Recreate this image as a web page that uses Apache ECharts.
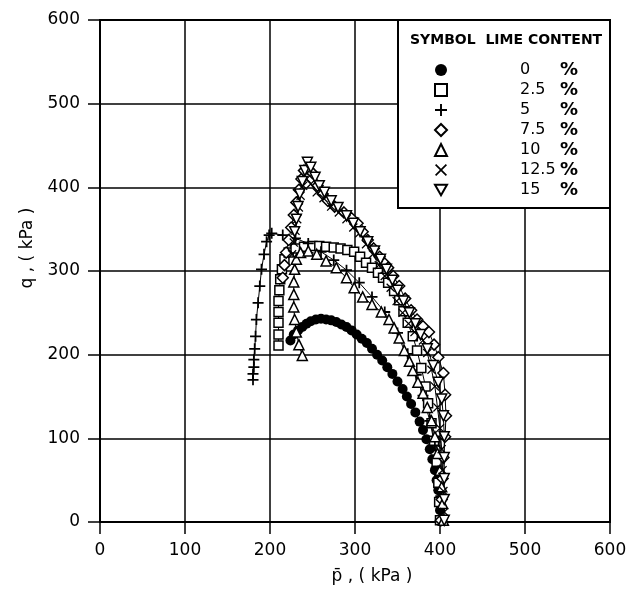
<!DOCTYPE html>
<html>
<head>
<meta charset="utf-8">
<script src="https://cdn.jsdelivr.net/npm/echarts@6/dist/echarts.min.js"></script>
<style>
html, body { margin: 0; padding: 0; background: #fff; }
#chart { width: 633px; height: 590px; }
</style>
</head>
<body>
<div id="chart"></div>
<script>
// axis ticks
var xTicks = [0, 100, 200, 300, 400, 500, 600];
var yTicks = [0, 100, 200, 300, 400, 500, 600];

// legend (lime content, %)
var limeNames = ['0', '2.5', '5', '7.5', '10', '12.5', '15'];

// stress paths, p-bar (kPa) and q (kPa)
var lime0P = [224, 228, 233, 238, 243, 248, 254, 260, 266, 272, 278, 284, 290, 296, 302, 308, 314, 320, 326, 332, 338, 344, 350, 356, 361, 366, 371, 376, 380, 384, 388, 391, 394, 396, 398, 399, 400, 400];
var lime0Q = [217, 224, 229, 233, 237, 240, 242, 243, 242, 241, 239, 236, 233, 229, 224, 219, 214, 207, 200, 193, 185, 177, 168, 159, 150, 141, 131, 120, 110, 99, 87, 75, 62, 50, 38, 26, 14, 2];

var lime25P = [210, 210, 210, 210, 210, 211, 212, 214, 217, 222, 230, 240, 250, 258, 266, 275, 283, 291, 299, 306, 313, 320, 327, 333, 339, 346, 352, 357, 362, 368, 373, 378, 383, 386, 390, 393, 396, 398, 399, 400];
var lime25Q = [211, 224, 238, 251, 264, 277, 290, 302, 314, 322, 327, 329, 330, 330, 329, 328, 327, 325, 323, 317, 310, 304, 298, 292, 286, 276, 265, 252, 238, 222, 205, 184, 162, 142, 118, 97, 72, 47, 24, 2];

var lime5P = [180, 180, 181, 181, 182, 183, 184, 186, 188, 190, 193, 196, 199, 202, 215, 230, 245, 260, 275, 290, 305, 320, 335, 350, 362, 372, 380, 388, 394, 398, 401, 402];
var lime5Q = [170, 177, 185, 194, 207, 222, 242, 262, 282, 302, 320, 335, 343, 345, 343, 339, 333, 323, 313, 301, 286, 269, 251, 226, 201, 176, 151, 121, 91, 61, 31, 2];

var lime75P = [215, 217, 219, 222, 225, 228, 231, 234, 237, 240, 245, 250, 256, 262, 268, 276, 287, 296, 303, 309, 315, 322, 329, 335, 339, 345, 352, 359, 366, 373, 380, 387, 393, 398, 404, 406, 407, 406, 404, 403, 402, 401];
var lime75Q = [292, 307, 322, 337, 352, 367, 382, 397, 410, 420, 422, 417, 402, 392, 384, 377, 370, 363, 357, 347, 337, 327, 317, 309, 304, 294, 282, 267, 253, 242, 234, 227, 212, 197, 178, 152, 127, 102, 77, 52, 27, 2];

var lime10P = [238, 234, 231, 229, 228, 228, 228, 229, 231, 236, 245, 255, 266, 278, 290, 299, 309, 320, 331, 340, 346, 352, 358, 364, 368, 374, 380, 385, 390, 394, 397, 400, 402, 403, 404];
var lime10Q = [199, 212, 227, 242, 257, 272, 287, 302, 314, 322, 324, 320, 312, 304, 292, 280, 269, 260, 251, 242, 232, 220, 205, 192, 181, 167, 154, 137, 121, 102, 82, 62, 42, 22, 2];

var lime125P = [226, 228, 230, 232, 234, 236, 239, 243, 248, 255, 263, 272, 281, 290, 298, 305, 313, 321, 328, 335, 342, 349, 356, 363, 370, 376, 380, 385, 390, 394, 397, 400, 402, 403, 404, 405];
var lime125Q = [320, 334, 348, 362, 376, 390, 402, 410, 404, 394, 387, 377, 370, 362, 352, 345, 332, 320, 307, 294, 280, 264, 250, 237, 227, 222, 217, 202, 182, 162, 137, 112, 87, 62, 37, 12];

var lime15P = [229, 231, 233, 235, 238, 241, 244, 248, 253, 258, 264, 272, 280, 290, 298, 306, 315, 323, 330, 337, 344, 350, 357, 364, 371, 377, 385, 392, 398, 402, 404, 405, 405, 405, 405, 405];
var lime15Q = [347, 362, 377, 392, 407, 420, 430, 424, 412, 402, 394, 384, 376, 366, 357, 347, 335, 324, 314, 302, 289, 277, 264, 250, 237, 224, 207, 187, 167, 147, 127, 102, 77, 52, 27, 2];

var FONT = 'DejaVu Sans';

function zip(ps, qs) {
    var out = [];
    for (var i = 0; i < ps.length; i++) {
        out.push([ps[i], qs[i]]);
    }
    return out;
}

// symbols
var plusPath = 'path://M4.2,0H5.8V4.2H10V5.8H5.8V10H4.2V5.8H0V4.2H4.2Z';
var crossPath = 'path://M1,0L5,4L9,0L10,1L6,5L10,9L9,10L5,6L1,10L0,9L4,5L0,1Z';
var downTriPath = 'path://M0,0H10L5,8.66Z';

var hollow = { color: '#fff', borderColor: '#000', borderWidth: 1.5 };
var solid = { color: '#000' };

var seriesDefs = [
    { p: lime0P, q: lime0Q, symbol: 'circle', size: 10, style: solid },
    { p: lime25P, q: lime25Q, symbol: 'rect', size: 9, style: hollow },
    { p: lime5P, q: lime5Q, symbol: plusPath, size: 11, style: solid },
    { p: lime75P, q: lime75Q, symbol: 'diamond', size: 11, style: hollow },
    { p: lime10P, q: lime10Q, symbol: 'triangle', size: 10, style: hollow },
    { p: lime125P, q: lime125Q, symbol: crossPath, size: 9, style: solid },
    { p: lime15P, q: lime15Q, symbol: downTriPath, size: 10, style: hollow }
];

var series = seriesDefs.map(function (d, i) {
    return {
        name: limeNames[i],
        type: 'line',
        data: zip(d.p, d.q),
        symbol: d.symbol,
        symbolSize: d.size,
        showAllSymbol: true,
        itemStyle: d.style,
        lineStyle: { color: '#000', width: 1 },
        emphasis: { disabled: true },
        z: 2
    };
});

var legendData = seriesDefs.map(function (d, i) {
    return { name: limeNames[i], icon: d.symbol };
});

var chart = echarts.init(document.getElementById('chart'));
var option = {
    backgroundColor: '#fff',
    animation: false,
    grid: {
        left: 100,
        right: 23,
        top: 20,
        bottom: 68,
        show: true,
        borderColor: '#000',
        borderWidth: 2,
        backgroundColor: 'transparent'
    },
    graphic: [
        {
            type: 'rect',
            shape: { x: 398, y: 20, width: 212, height: 188 },
            style: { fill: '#fff', stroke: '#000', lineWidth: 2 },
            z: 3
        },
        {
            type: 'text',
            left: 410,
            top: 33,
            z: 4,
            style: {
                text: 'SYMBOL  LIME CONTENT',
                font: 'bold 14px "DejaVu Sans"',
                fill: '#000'
            }
        }
    ],
    legend: {
        data: legendData,
        orient: 'vertical',
        left: 434,
        top: 61,
        itemWidth: 12,
        itemHeight: 12,
        itemGap: 2,
        padding: 0,
        selectedMode: false,
        z: 5,
        formatter: function (name) {
            return '{s|}{v|' + name + '}{p|%}';
        },
        textStyle: {
            fontFamily: FONT,
            fontSize: 16,
            color: '#000',
            rich: {
                s: { width: 68, fontFamily: FONT, fontSize: 16 },
                v: { width: 40, fontFamily: FONT, fontSize: 16, color: '#000' },
                p: { fontFamily: FONT, fontSize: 18, fontWeight: 'bold', color: '#000' }
            }
        }
    },
    xAxis: {
        type: 'value',
        min: xTicks[0],
        max: xTicks[xTicks.length - 1],
        interval: 100,
        name: 'p\u0304 , ( kPa )',
        nameLocation: 'middle',
        nameGap: 46,
        nameTextStyle: { fontFamily: FONT, fontSize: 17, color: '#000', padding: [0, 0, 0, 34] },
        axisLine: { lineStyle: { color: '#000', width: 2 } },
        axisTick: { show: true, length: 12, lineStyle: { color: '#000', width: 1.5 } },
        axisLabel: { fontFamily: FONT, fontSize: 17, color: '#000', margin: 20 },
        splitLine: { show: true, lineStyle: { color: '#000', width: 1.5 } }
    },
    yAxis: {
        type: 'value',
        min: yTicks[0],
        max: yTicks[yTicks.length - 1],
        interval: 100,
        name: 'q , ( kPa )',
        nameLocation: 'middle',
        nameRotate: 90,
        nameGap: 64,
        nameTextStyle: { fontFamily: FONT, fontSize: 17, color: '#000', padding: [0, 0, 0, 46] },
        axisLine: { lineStyle: { color: '#000', width: 2 } },
        axisTick: { show: true, length: 12, lineStyle: { color: '#000', width: 1.5 } },
        axisLabel: { fontFamily: FONT, fontSize: 17, color: '#000', margin: 20 },
        splitLine: { show: true, lineStyle: { color: '#000', width: 1.5 } }
    },
    series: series
};
chart.setOption(option);
</script>
</body>
</html>
